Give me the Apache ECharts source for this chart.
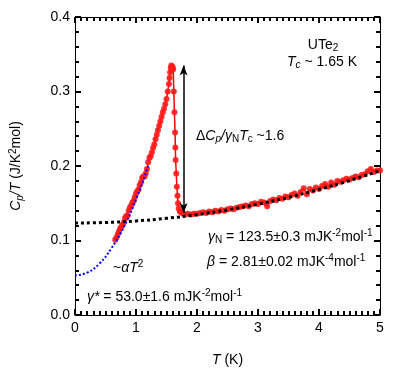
<!DOCTYPE html>
<html><head><meta charset="utf-8">
<script src="https://cdn.jsdelivr.net/npm/echarts@6/dist/echarts.min.js"></script>
<style>html,body{margin:0;padding:0;background:#fff}#c{width:415px;height:372px}</style>
</head><body><div id="c"></div>
<script>
// measured Cp/T (J/K^2 mol) vs T (K)
const dataT = [0.66,0.68,0.70,0.72,0.74,0.76,0.78,0.80,0.82,0.84,0.86,0.88,0.90,0.92,0.94,0.96,0.98,1.00,1.02,1.04,1.06,1.08,1.10,1.12,1.14,1.16,1.18,1.20,1.22,1.24,1.26,1.28,1.30,1.32,1.34,1.36,1.38,1.40,1.42,1.44,1.46,1.48,1.50,1.52,1.54,1.55,1.56,1.57,1.58,1.59,1.60,1.61,
 1.62,1.63,1.64,1.645,1.65,1.66,1.67,1.68,1.69,1.70,1.72,1.74,
 1.77,1.80,1.85,1.90,1.95,2.00,2.05,2.10,2.15,2.20,2.25,2.30,2.35,2.40,2.45,2.50,2.55,2.60,2.65,2.70,2.75,2.80,2.85,2.90,2.95,3.00,3.05,3.10,3.15,3.20,3.25,3.30,3.35,3.40,3.45,3.50,3.55,3.60,3.65,3.70,3.75,3.80,3.85,3.90,3.95,4.00,4.05,4.10,4.15,4.20,4.25,4.30,4.35,4.40,4.45,4.50,4.55,4.60,4.65,4.70,4.75,4.80,4.85,4.90,4.95,5.00];
const dataCT = [0.101,0.104,0.108,0.112,0.116,0.118,0.121,0.124,0.130,0.133,0.133,0.140,0.144,0.147,0.151,0.153,0.158,0.163,0.166,0.168,0.174,0.178,0.184,0.186,0.186,0.190,0.196,0.205,0.211,0.213,0.218,0.224,0.229,0.236,0.242,0.248,0.254,0.260,0.266,0.272,0.277,0.283,0.290,0.300,0.310,0.318,0.326,0.332,0.335,0.333,0.333,0.330,
 0.300,0.272,0.245,0.225,0.208,0.190,0.172,0.160,0.150,0.143,0.139,0.138,
 0.136,0.135,0.136,0.135,0.136,0.136,0.137,0.138,0.137,0.139,0.138,0.140,0.139,0.141,0.140,0.142,0.143,0.142,0.144,0.145,0.146,0.147,0.146,0.149,0.150,0.149,0.152,0.151,0.146,0.153,0.155,0.154,0.157,0.156,0.159,0.158,0.161,0.163,0.160,0.165,0.170,0.162,0.169,0.167,0.171,0.169,0.173,0.176,0.172,0.178,0.175,0.180,0.179,0.181,0.183,0.182,0.184,0.186,0.185,0.188,0.189,0.193,0.196,0.192,0.194,0.194];
// normal-state fit curve (gamma_N + beta T^2)
const fitNT = [0,0.5,1,1.5,2,2.5,3,3.5,4,4.5,5];
const fitNV = [0.1235,0.1242,0.1263,0.1298,0.1347,0.1411,0.1488,0.1579,0.1685,0.1804,0.1938];
// low-T fit curve (gamma* + alpha T^2)
const fitST = [0,0.2,0.4,0.6,0.8,1.0,1.2];
const fitSV = [0.053,0.057,0.069,0.090,0.118,0.155,0.200];
// jump arrow
const arrowT = 1.78, arrowLow = 0.137, arrowHigh = 0.335;
const xTicks = [0,1,2,3,4,5];
const yTicks = [0.0,0.1,0.2,0.3,0.4];

const FONT = "'Liberation Sans', Arial, sans-serif";
const zip = (a,b)=>a.map((v,i)=>[v,b[i]]);
const X0 = xTicks[0], X1 = xTicks[xTicks.length-1], Y0 = yTicks[0], Y1 = yTicks[yTicks.length-1];
const rich = {
  n:{fontSize:14,fontFamily:FONT,color:'#000'},
  i:{fontSize:14,fontFamily:FONT,color:'#000',fontStyle:'italic'},
  sub:{fontSize:10,fontFamily:FONT,color:'#000',padding:[7,0,0,0]},
  isub:{fontSize:10,fontFamily:FONT,color:'#000',fontStyle:'italic',padding:[7,0,0,0]},
  sup:{fontSize:10,fontFamily:FONT,color:'#000',padding:[0,0,7,0]}
};
function txt(x,y,t,align){
  return {type:'text',x:x,y:y,style:{text:t,rich:rich,fontSize:14,fontFamily:FONT,fill:'#000',align:align||'left',verticalAlign:'middle'}};
}
function axLine(){ return {show:true,onZero:false,lineStyle:{color:'#000',width:1}}; }
function tick(){ return {show:true,inside:true,length:6,lineStyle:{color:'#000',width:2}}; }
function minor(n){ return {show:true,splitNumber:n,length:4,lineStyle:{color:'#000',width:2}}; }
const chart = echarts.init(document.getElementById('c'));
chart.setOption({
  animation:false,
  grid:{left:73,right:35,top:17,bottom:48},
  xAxis:[{type:'value',min:X0,max:X1,interval:1,position:'bottom',
    axisLine:axLine(),axisTick:tick(),minorTick:minor(10),splitLine:{show:false},
    axisLabel:{fontSize:14,fontFamily:FONT,color:'#000',margin:6},
    name:'{i|T} (K)',nameLocation:'middle',nameGap:38,nameTextStyle:{rich:rich,fontSize:14,fontFamily:FONT,color:'#000'}},
   {type:'value',min:X0,max:X1,interval:1,position:'top',
    axisLine:axLine(),axisTick:tick(),minorTick:minor(10),splitLine:{show:false},axisLabel:{show:false}}],
  yAxis:[{type:'value',min:Y0,max:Y1,interval:0.1,position:'left',
    axisLine:axLine(),axisTick:tick(),minorTick:minor(5),splitLine:{show:false},
    axisLabel:{fontSize:14,fontFamily:FONT,color:'#000',margin:5,formatter:v=>v.toFixed(1)},
    name:'{i|C}{isub|p}{i|/T} (J/K{sup|2}mol)',nameLocation:'middle',nameGap:50,nameRotate:90,
    nameTextStyle:{rich:rich,fontSize:14,fontFamily:FONT,color:'#000'}},
   {type:'value',min:Y0,max:Y1,interval:0.1,position:'right',
    axisLine:axLine(),axisTick:tick(),minorTick:minor(5),splitLine:{show:false},axisLabel:{show:false}}],
  series:[
    {type:'line',data:zip(dataT,dataCT),symbol:'circle',symbolSize:6,
     itemStyle:{color:'#ff1a1a',opacity:0.9},lineStyle:{color:'#ff0000',width:1.5},z:2},
    {type:'line',data:zip(fitNT,fitNV),smooth:true,showSymbol:false,
     lineStyle:{color:'#000',width:3,type:[3,3]},z:3},
    {type:'line',data:zip(fitST,fitSV),smooth:true,showSymbol:false,
     lineStyle:{color:'#0000ff',width:2,type:[2,2]},z:3},
    {type:'line',data:[],markLine:{silent:true,symbol:['arrow','arrow'],symbolSize:[6,10],
      lineStyle:{color:'#000',width:1.5,type:'solid'},label:{show:false},
      data:[[{coord:[arrowT,arrowLow]},{coord:[arrowT,arrowHigh]}]]}}
  ],
  graphic:[
    txt(323,45,'{n|UTe}{sub|2}','center'),
    txt(322,62,'{i|T}{isub|c}{n| ~ 1.65 K}','center'),
    txt(196,136,'{n|Δ}{i|C}{isub|p}{i|/γ}{sub|N}{i|T}{sub|c}{n| ~1.6}'),
    txt(208,237,'{i|γ}{sub|N}{n| = 123.5±0.3 mJK}{sup|-2}{n|mol}{sup|-1}'),
    txt(207,262,'{i|β}{n| = 2.81±0.02 mJK}{sup|-4}{n|mol}{sup|-1}'),
    txt(113,268,'{n|~}{i|αT}{sup|2}'),
    txt(87,297,'{i|γ*}{n| = 53.0±1.6 mJK}{sup|-2}{n|mol}{sup|-1}')
  ]
});
</script></body></html>
